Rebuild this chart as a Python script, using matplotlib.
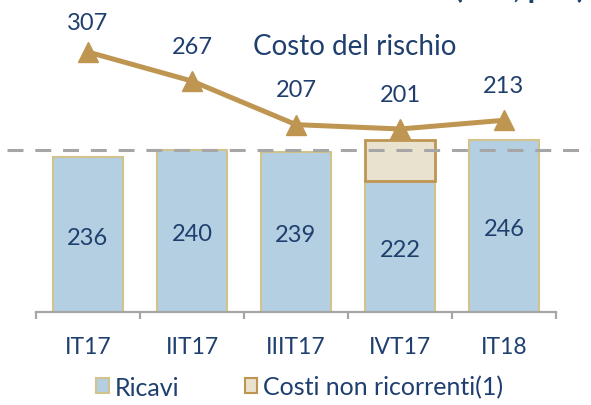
import numpy as np
import matplotlib.pyplot as plt
from matplotlib.patches import Patch

plt.rcParams['font.family'] = ['Lato', 'DejaVu Sans']
plt.rcParams['lines.scale_dashes'] = False

# data
quarters = ["IT17", "IIT17", "IIIT17", "IVT17", "IT18"]
ricavi = [236, 240, 239, 222, 246]
costi_nr = [0, 0, 0, 24, 0]
costo_rischio = [307, 267, 207, 201, 213]
soglia = 240

navy = '#1F3F6E'
blue = '#B3CFE1'
khaki = '#D2C28C'
beige = '#E8E2CE'
gold = '#BF9552'
grey = '#A6A6A6'

W, H = 591, 406
fig = plt.figure(figsize=(W / 100, H / 100), dpi=100)
ax = fig.add_axes([36 / W, 1 - 313 / H, 520 / W, 313 / H])
x = np.arange(len(quarters))
ylo, yhi = 145, 329

ax.bar(x, ricavi, width=0.68, color=blue, edgecolor=khaki, linewidth=1.5, zorder=2)
nr = [i for i in range(len(x)) if costi_nr[i] > 0]
ax.bar(x[nr], [costi_nr[i] for i in nr], bottom=[ricavi[i] for i in nr], width=0.68,
       color=beige, edgecolor=gold, linewidth=2, zorder=2)
for xi, r in zip(x, ricavi):
    ax.text(xi, (ylo + r) / 2 - 1.5, str(r), ha='center', va='center', fontsize=17, color=navy, zorder=4)

ax.plot([-0.055, 1.07], [soglia, soglia], transform=ax.get_yaxis_transform(), clip_on=False,
        color=grey, lw=2.2, dashes=(11.5, 8.5), zorder=3)

ax.set_xlim(-0.5, len(x) - 0.5)
ax.set_ylim(ylo, yhi)
for s in ['top', 'right', 'left']:
    ax.spines[s].set_visible(False)
ax.spines['bottom'].set_color(grey)
ax.spines['bottom'].set_linewidth(1.6)
ax.set_yticks([])
ax.set_xticks(np.arange(-0.5, len(x)), labels=[])
ax.tick_params(axis='x', which='major', length=5, width=1.6, color=grey)
ax.set_xticks(x, labels=quarters, minor=True)
ax.tick_params(axis='x', which='minor', length=0, pad=17, labelsize=16.5, labelcolor=navy)

ax2 = ax.twinx()
ax2.set_ylim(-51, 380)
ax2.plot(x, costo_rischio, color=gold, lw=3.6, marker='^', ms=14.5, zorder=5)
for i, (xi, c) in enumerate(zip(x, costo_rischio)):
    off = 21.5 if i == 0 else 25
    ax2.annotate(str(c), (xi, c), xytext=(0, off), textcoords='offset points',
                 ha='center', va='center', fontsize=17, color=navy)
ax2.axis('off')

fig.text(355 / W, 1 - 47 / H, "Costo del rischio", ha='center', va='center', fontsize=20, color=navy)
fig.text(585 / W, 1 + 2 / H, "Ricavi e costo del rischio trimestrali (mln, p.b.)", ha='right',
         va='baseline', fontsize=22, fontweight='bold', color=navy)

handles = [Patch(facecolor=blue, edgecolor=khaki, linewidth=1.5, label='Ricavi'),
           Patch(facecolor=beige, edgecolor=gold, linewidth=1.5, label='Costi non ricorrenti(1)')]
fig.legend(handles=handles, loc='center', bbox_to_anchor=(300 / W, 1 - 388 / H), ncol=2,
           frameon=False, fontsize=18, labelcolor=navy, handlelength=0.5, handleheight=0.55,
           handletextpad=0.25, columnspacing=2.6)

fig.savefig('out.png', dpi=100)
